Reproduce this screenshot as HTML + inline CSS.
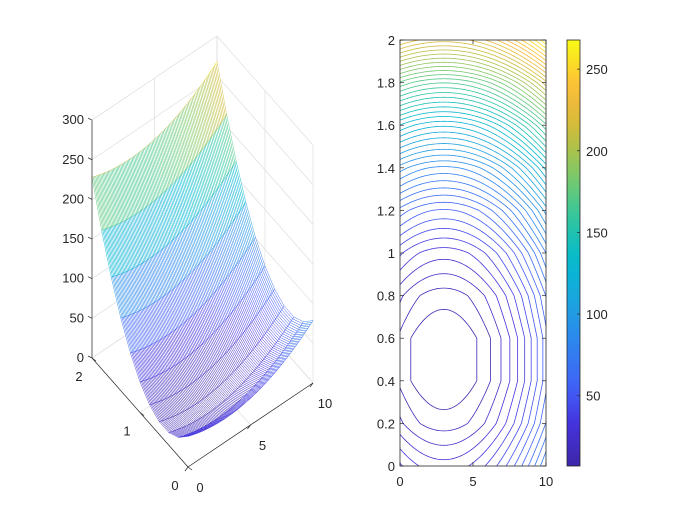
<!DOCTYPE html>
<html><head><meta charset="utf-8"><style>
html,body{margin:0;padding:0;background:#fff}
svg{display:block}
text{font-family:"Liberation Sans",sans-serif;font-size:13px;fill:#262626}
</style></head><body>
<svg id="s" width="700" height="525" xmlns="http://www.w3.org/2000/svg"></svg>
<script>
var S=document.getElementById('s'),out=[];
function f(x,y){return (x-3)*(x-3)+94.6*(y-0.5)*(y-0.5)+6;}
var stops=[[0,'3e26a8'],[0.1,'4433dd'],[0.18,'4260f8'],[0.28,'2f82f0'],[0.38,'1ea3e0'],[0.48,'02bad0'],[0.58,'2ec6a0'],[0.68,'7cca6a'],[0.78,'c8bd3a'],[0.88,'fdb83c'],[1,'f9fb14']];
function hx(h){return [parseInt(h.substr(0,2),16),parseInt(h.substr(2,2),16),parseInt(h.substr(4,2),16)];}
function cmap(t){t=Math.max(0,Math.min(1,t));for(var i=1;i<stops.length;i++){if(t<=stops[i][0]){var a=stops[i-1],b=stops[i],u=(t-a[0])/(b[0]-a[0]);var A=hx(a[1]),B=hx(b[1]);return 'rgb('+A.map(function(v,k){return Math.round(v+(B[k]-v)*u)}).join(',')+')';}}return '#f9fb14';}
var NX=101,NY=11,X=[],Y=[],Z=[],zmin=1e9,zmax=-1e9;
for(var i=0;i<NX;i++)X.push(i*0.1);for(var j=0;j<NY;j++)Y.push(j*0.2);
for(var j=0;j<NY;j++){Z.push([]);for(var i=0;i<NX;i++){var z=f(X[i],Y[j]);Z[j].push(z);if(z<zmin)zmin=z;if(z>zmax)zmax=z;}}
var C=function(z){return cmap((z-zmin)/(zmax-zmin));};
function P(x,y,z){return [188+12.5*x-48*y,467-8.4*x-54.5*y-0.793*z];}
function L(a,b,c,w){out.push('<line x1="'+a[0].toFixed(2)+'" y1="'+a[1].toFixed(2)+'" x2="'+b[0].toFixed(2)+'" y2="'+b[1].toFixed(2)+'" stroke="'+c+'" stroke-width="'+(w||1)+'"/>');}
var g='#dedede';
for(var z=0;z<=300;z+=50){L(P(0,2,z),P(10,2,z),g,0.7);L(P(10,2,z),P(10,0,z),g,0.7);}
[0,5,10].forEach(function(x){L(P(x,2,0),P(x,2,300),g,0.7);L(P(x,0,0),P(x,2,0),g,0.7);});
[0,1,2].forEach(function(y){L(P(10,y,0),P(10,y,300),g,0.7);L(P(0,y,0),P(10,y,0),g,0.7);});
var quads=[];
for(var j=0;j<NY-1;j++)for(var i=0;i<NX-1;i++){var zc=(Z[j][i]+Z[j][i+1]+Z[j+1][i]+Z[j+1][i+1])/4;var d=X[i]/10+Y[j]/2+0.05-0.6*zc/300;quads.push([d,i,j]);}
quads.sort(function(a,b){return b[0]-a[0];});
quads.forEach(function(q){var i=q[1],j=q[2];var p1=P(X[i],Y[j],Z[j][i]),p2=P(X[i+1],Y[j],Z[j][i+1]),p3=P(X[i+1],Y[j+1],Z[j+1][i+1]),p4=P(X[i],Y[j+1],Z[j+1][i]);
out.push('<polygon points="'+[p1,p2,p3,p4].map(function(p){return p[0].toFixed(2)+','+p[1].toFixed(2)}).join(' ')+'" fill="#fff"/>');
L(p1,p2,C(Z[j][i]),0.5);L(p4,p3,C(Z[j+1][i]),0.5);L(p1,p4,C(Z[j][i]),0.45);L(p2,p3,C(Z[j][i+1]),0.45);});
var k='#262626';
L(P(0,2,0),P(0,2,300),k,0.7);L(P(0,0,0),P(10,0,0),k,0.7);L(P(0,0,0),P(0,2,0),k,0.7);
for(var z=0;z<=300;z+=50){var p=P(0,2,z);L(p,[p[0]-4,p[1]-2],k,0.7);out.push('<text x="84" y="'+(p[1]+4)+'" text-anchor="end">'+z+'</text>');}
[0,5,10].forEach(function(x){var p=P(x,0,0);L(p,[p[0]-3,p[1]+4],k,0.7);out.push('<text x="'+(p[0]+12)+'" y="'+(p[1]+25)+'" text-anchor="middle">'+x+'</text>');});
[0,1,2].forEach(function(y){var p=P(0,y,0);L(p,[p[0]+4,p[1]+3],k,0.7);out.push('<text x="'+(p[0]-13)+'" y="'+(p[1]+23)+'" text-anchor="middle">'+y+'</text>');});
var ax0=400,ax1=546,ay0=466,ay1=40;
function Q(x,y){return [ax0+(ax1-ax0)*x/10,ay0+(ay1-ay0)*y/2];}
var NL=50;
for(var l=1;l<=NL;l++){var lv=zmin+l*(zmax-zmin)/(NL+1),d='';
for(var j=0;j<NY-1;j++)for(var i=0;i<NX-1;i++){
var c=[[X[i],Y[j],Z[j][i]],[X[i+1],Y[j],Z[j][i+1]],[X[i+1],Y[j+1],Z[j+1][i+1]],[X[i],Y[j+1],Z[j+1][i]]],pts=[];
for(var e=0;e<4;e++){var a=c[e],b=c[(e+1)%4];if((a[2]-lv)*(b[2]-lv)<0){var u=(lv-a[2])/(b[2]-a[2]);pts.push(Q(a[0]+u*(b[0]-a[0]),a[1]+u*(b[1]-a[1])));}}
for(var m=0;m+1<pts.length;m+=2)d+='M'+pts[m][0].toFixed(2)+' '+pts[m][1].toFixed(2)+'L'+pts[m+1][0].toFixed(2)+' '+pts[m+1][1].toFixed(2);}
out.push('<path d="'+d+'" stroke="'+C(lv)+'" stroke-width="0.8" fill="none"/>');}
out.push('<rect x="400" y="40" width="146" height="426" fill="none" stroke="'+k+'" stroke-width="0.8"/>');
for(var t=0;t<=10;t++){var y=(t*0.2),p=Q(0,y);L(p,[p[0]+4,p[1]],k,0.7);L([ax1,p[1]],[ax1-4,p[1]],k,0.7);out.push('<text x="395" y="'+(p[1]+5)+'" text-anchor="end">'+(Math.round(y*10)/10)+'</text>');}
[0,5,10].forEach(function(x){var p=Q(x,0);L(p,[p[0],p[1]-4],k,0.7);L([p[0],ay1],[p[0],ay1+4],k,0.7);out.push('<text x="'+p[0]+'" y="486" text-anchor="middle">'+x+'</text>');});
out.push('<defs><linearGradient id="cb" x1="0" y1="1" x2="0" y2="0">');
for(var s=0;s<=20;s++)out.push('<stop offset="'+(s/20)+'" stop-color="'+cmap(s/20)+'"/>');
out.push('</linearGradient></defs><rect x="567" y="40" width="13" height="426" fill="url(#cb)" stroke="'+k+'" stroke-width="0.8"/>');
for(var v=50;v<=250;v+=50){var y=466-(v-zmin)/(zmax-zmin)*426;L([580,y],[577,y],k,0.7);out.push('<text x="586" y="'+(y+5)+'">'+v+'</text>');}
S.innerHTML=out.join('');
</script>
</body></html>
